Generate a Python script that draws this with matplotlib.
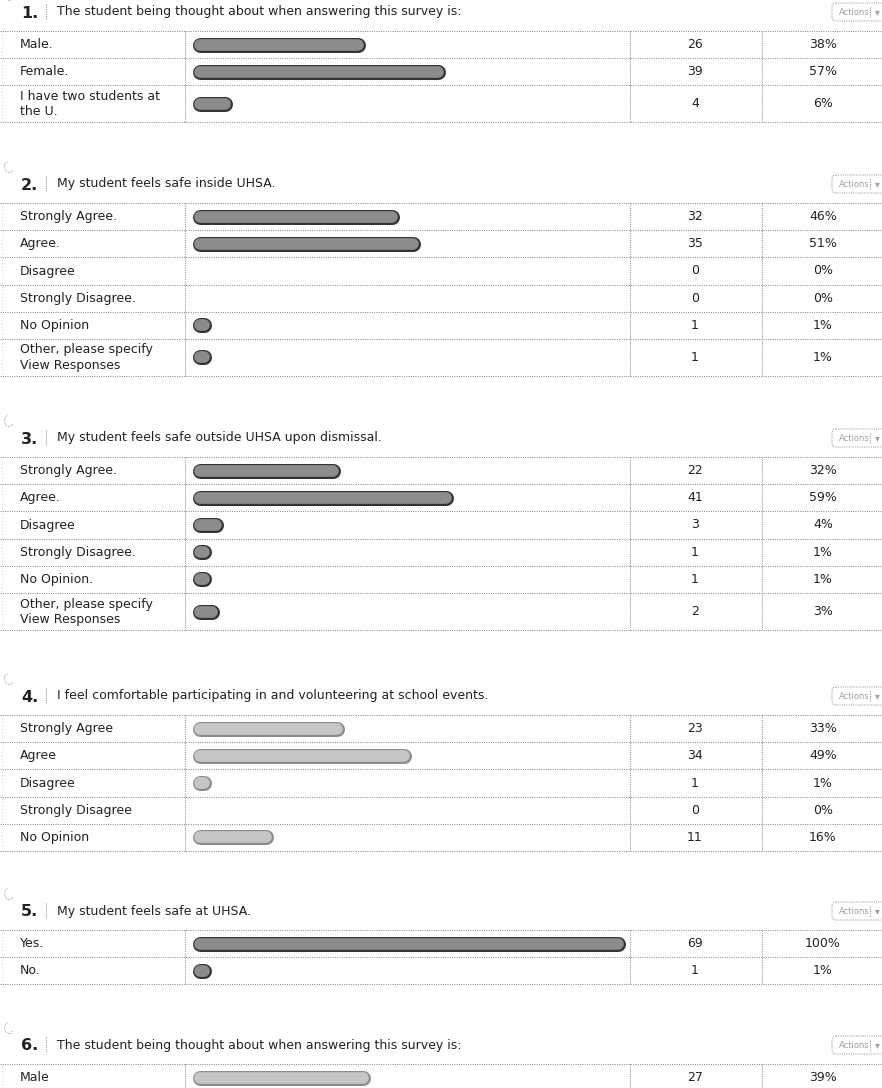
import matplotlib
matplotlib.use("Agg")
import matplotlib.pyplot as plt
from matplotlib.patches import FancyBboxPatch, Arc
import matplotlib.patheffects as pe

plt.rcParams['font.family'] = ['DejaVu Sans']

# ---- survey results ----
q_numbers = ["1.", "2.", "3.", "4.", "5.", "6."]
q_titles = [
    "The student being thought about when answering this survey is:",
    "My student feels safe inside UHSA.",
    "My student feels safe outside UHSA upon dismissal.",
    "I feel comfortable participating in and volunteering at school events.",
    "My student feels safe at UHSA.",
    "The student being thought about when answering this survey is:",
]

q1_labels = ["Male.", "Female.", "I have two students at\nthe U."]
q1_counts = [26, 39, 4]
q1_pcts = [38, 57, 6]

q2_labels = ["Strongly Agree.", "Agree.", "Disagree", "Strongly Disagree.",
             "No Opinion", "Other, please specify\nView Responses"]
q2_counts = [32, 35, 0, 0, 1, 1]
q2_pcts = [46, 51, 0, 0, 1, 1]

q3_labels = ["Strongly Agree.", "Agree.", "Disagree", "Strongly Disagree.",
             "No Opinion.", "Other, please specify\nView Responses"]
q3_counts = [22, 41, 3, 1, 1, 2]
q3_pcts = [32, 59, 4, 1, 1, 3]

q4_labels = ["Strongly Agree", "Agree", "Disagree", "Strongly Disagree", "No Opinion"]
q4_counts = [23, 34, 1, 0, 11]
q4_pcts = [33, 49, 1, 0, 16]

q5_labels = ["Yes.", "No."]
q5_counts = [69, 1]
q5_pcts = [100, 1]

q6_labels = ["Male"]
q6_counts = [27]
q6_pcts = [39]

questions = [
    (q1_labels, q1_counts, q1_pcts),
    (q2_labels, q2_counts, q2_pcts),
    (q3_labels, q3_counts, q3_pcts),
    (q4_labels, q4_counts, q4_pcts),
    (q5_labels, q5_counts, q5_pcts),
    (q6_labels, q6_counts, q6_pcts),
]

# ---- page layout (pixels) ----
W, H = 882, 1088
table_tops = [31, 203, 457, 715, 930, 1064]
row_h, row_h2 = 27.2, 37
col_label_end, col_bar_end, col_count_end = 185, 630, 762
count_x, pct_x = 695, 823
bar_x0, bar_cap = 199.5, 15      # bar origin and rounded-cap thickness (px)
bar_px_per_pct = 4.18
bar_tones = [("#8c8c8c", "#333333"), ("#8c8c8c", "#333333"), ("#8c8c8c", "#333333"),
             ("#c6c6c6", "#8c8c8c"), ("#8c8c8c", "#333333"), ("#c6c6c6", "#8c8c8c")]

line_kw = dict(color="#8f8f8f", linewidth=0.75, linestyle=(0, (1, 1.2)))
text_color = "#222222"
fs = 9.0
title_fs = 9.0

fig = plt.figure(figsize=(W / 100, H / 100), dpi=100)
fig.patch.set_facecolor("white")
ax = fig.add_axes([0, 0, 1, 1])
ax.set_xlim(0, W)
ax.set_ylim(H, 0)
ax.axis("off")

# bar column: x in percent, y shared with the page
axb = fig.add_axes([bar_x0 / W, 0, (col_bar_end - bar_x0) / W, 1])
axb.set_xlim(0, (col_bar_end - bar_x0) / bar_px_per_pct)
axb.set_ylim(H, 0)
axb.axis("off")
axb.patch.set_alpha(0)

for qi, (labels, counts, pcts) in enumerate(questions):
    top = table_tops[qi]
    title_y = top - 19

    # question icon, number, title
    ax.add_patch(Arc((9, title_y - 17), 9, 11, theta1=40, theta2=260,
                     color="#aaaaaa", lw=0.8, linestyle=(0, (1, 1))))
    ax.text(21, title_y + 1, q_numbers[qi], fontsize=11.5, fontweight="bold",
            color=text_color, va="center", ha="left")
    ax.vlines(46, title_y - 8, title_y + 8, **line_kw)
    ax.text(57, title_y, q_titles[qi], fontsize=title_fs, color=text_color,
            va="center", ha="left")

    # "Actions" menu button
    ax.add_patch(FancyBboxPatch((832, title_y - 9), 70, 18,
                                boxstyle="round,pad=0,rounding_size=4",
                                fill=False, edgecolor="#a8a8a8", lw=0.8,
                                linestyle=(0, (1, 1))))
    ax.text(839, title_y + 0.5, "Actions", fontsize=6.0, color="#a0a0a0",
            va="center", ha="left")
    ax.vlines(870, title_y - 5, title_y + 6, **line_kw)
    ax.text(875, title_y + 0.5, "\u25be", fontsize=7, color="#a0a0a0",
            va="center", ha="left")

    # rows
    y = top
    ax.hlines(y, 0, W, **line_kw)
    fill, edge = bar_tones[qi]
    for lab, cnt, pct in zip(labels, counts, pcts):
        h = row_h2 if "\n" in lab else row_h
        yc = y + h / 2
        ax.text(20, yc, lab, fontsize=fs, color=text_color, va="center",
                ha="left", linespacing=1.2)
        ax.text(count_x, yc, str(cnt), fontsize=fs, color=text_color,
                va="center", ha="center")
        ax.text(pct_x, yc, f"{pct}%", fontsize=fs, color=text_color,
                va="center", ha="center")
        if cnt > 0:
            axb.plot([0, pct], [yc, yc], color=fill, linewidth=bar_cap * 0.72 - 2.4,
                     solid_capstyle="round", clip_on=False,
                     path_effects=[pe.Stroke(linewidth=bar_cap * 0.72, foreground=edge),
                                   pe.Normal()])
        y += h
        ax.hlines(y, 0, W, **line_kw)
    bottom = min(y, H + 5)
    for xv in (col_label_end, col_bar_end, col_count_end):
        ax.vlines(xv, top, bottom, **line_kw)
    ax.vlines(2, top, bottom, color="#c0c0c0", linewidth=0.6, linestyle=(0, (1, 3)))

fig.savefig("out.png", dpi=100, facecolor="white")
